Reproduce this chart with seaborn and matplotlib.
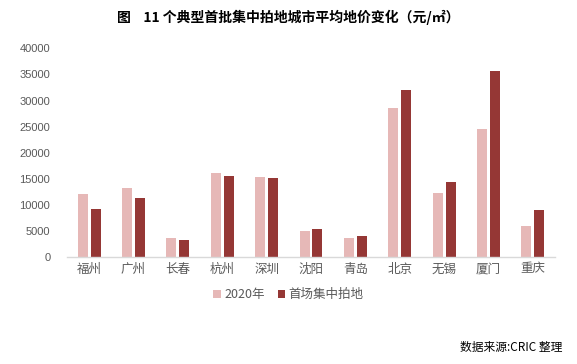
import matplotlib
matplotlib.use("Agg")
import matplotlib.pyplot as plt
import seaborn as sns
import pandas as pd
from matplotlib.patches import Patch

cities = ["福州", "广州", "长春", "杭州", "深圳", "沈阳", "青岛", "北京", "无锡", "厦门", "重庆"]
series_names = ["2020年", "首场集中拍地"]
values_2020 = [12100, 13250, 3700, 16150, 15400, 5050, 3700, 28600, 12300, 24600, 6000]
values_first = [9250, 11350, 3300, 15550, 15200, 5400, 4050, 32050, 14400, 35700, 9050]
yticks = [0, 5000, 10000, 15000, 20000, 25000, 30000, 35000, 40000]
colors = ["#E6B8B7", "#953735"]

df = pd.DataFrame({
    "city": cities * 2,
    "series": [series_names[0]] * len(cities) + [series_names[1]] * len(cities),
    "value": values_2020 + values_first,
})

sns.set_theme(style="white")
plt.rcParams["font.family"] = ["Noto Sans CJK SC", "DejaVu Sans"]

fig = plt.figure(figsize=(5.77, 3.64), dpi=100)
ax = fig.add_axes([0.116, 0.294, 0.846, 0.573])

sns.barplot(data=df, x="city", y="value", hue="series", order=cities,
            hue_order=series_names, palette=colors, width=0.584, gap=0.23,
            ax=ax, legend=False, saturation=1, linewidth=0, edgecolor="none")

ax.set_ylim(0, 40000)
ax.set_xlim(-0.5, len(cities) - 0.5)
ax.set_yticks(yticks)
ax.set_yticklabels([str(v) for v in yticks], fontsize=8, color="#595959",
                   family=["Liberation Sans", "DejaVu Sans"])
ax.tick_params(axis="x", labelsize=9, labelcolor="#595959", length=0, pad=4)
ax.tick_params(axis="y", length=0, pad=12)
ax.set_xlabel("")
ax.set_ylabel("")
for s in ["top", "right", "left"]:
    ax.spines[s].set_visible(False)
ax.spines["bottom"].set_color("#D9D9D9")
ax.spines["bottom"].set_linewidth(1)

handles = [Patch(facecolor=c, edgecolor="none") for c in colors]
fig.legend(handles, series_names, loc="center", bbox_to_anchor=(0.5, 0.19),
           ncol=2, frameon=False, fontsize=9, handlelength=0.6, handleheight=0.6,
           handletextpad=0.3, columnspacing=1.0, labelcolor="#595959")

fig.text(0.5, 0.953, "图    11 个典型首批集中拍地城市平均地价变化（元/㎡）",
         ha="center", va="center", fontsize=10, fontweight="bold", color="black")
fig.text(0.975, 0.045, "数据来源:CRIC 整理", ha="right", va="center",
         fontsize=8.5, color="black")

fig.savefig("out.png", dpi=100)
